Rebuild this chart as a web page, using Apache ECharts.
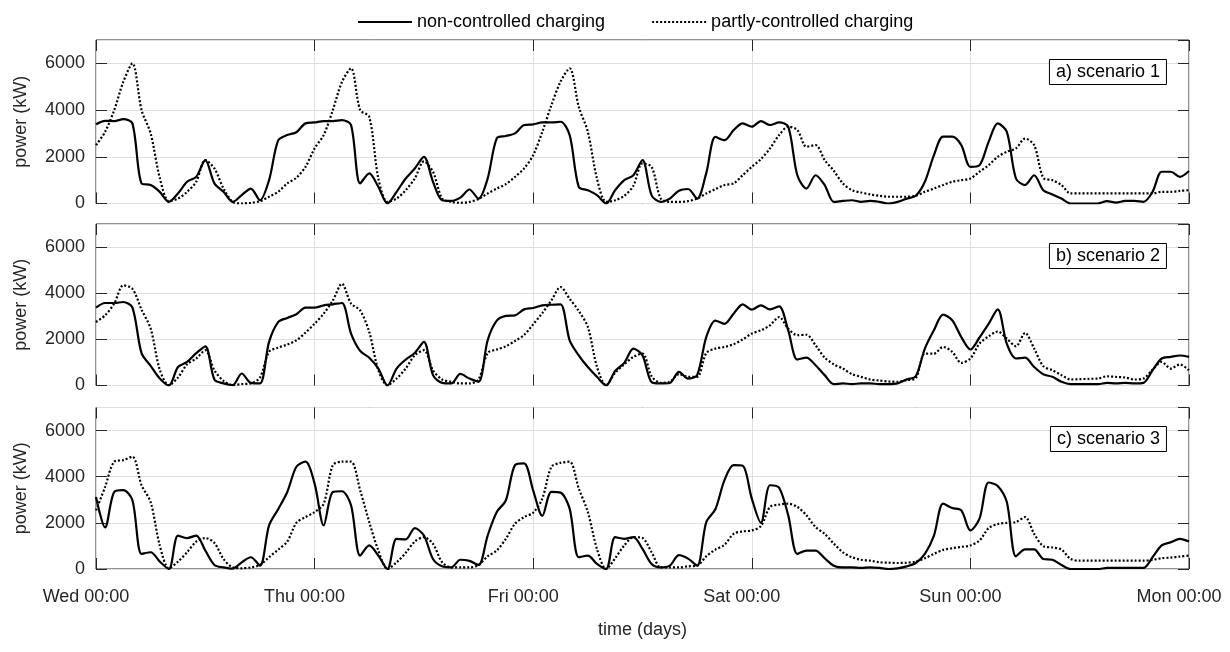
<!DOCTYPE html>
<html>
<head>
<meta charset="utf-8">
<title>charging power</title>
<script src="https://cdn.jsdelivr.net/npm/echarts@6/dist/echarts.min.js"></script>
<style>
  html, body { margin: 0; padding: 0; background: #fff; }
  #main { width: 1230px; height: 652px; }
</style>
</head>
<body>
<div id="main"></div>
<script>
  // hours since Wed 00:00, one value per hour
  var hours = [];
  for (var i = 0; i <= 120; i++) hours.push(i);

  var dayLabels = ['Wed 00:00', 'Thu 00:00', 'Fri 00:00', 'Sat 00:00', 'Sun 00:00', 'Mon 00:00'];
  var panelTitles = ['a) scenario 1', 'b) scenario 2', 'c) scenario 3'];
  var seriesNames = ['non-controlled charging', 'partly-controlled charging'];

  // scenario 1 (kW)
  var s1Non = [
    3390, 3540, 3530, 3610, 3430, 860, 790, 500, 70, 430,
    930, 1140, 1860, 860, 500, 70, 360, 640, 140, 1000,
    2700, 2930, 3050, 3430, 3470, 3530, 3530, 3570, 3360, 860,
    1290, 710, 0, 500, 1070, 1500, 2000, 930, 140, 110,
    250, 600, 210, 1070, 2790, 2890, 3000, 3360, 3390, 3470,
    3470, 3500, 2930, 715, 570, 360, 0, 570, 1000, 1210,
    1860, 350, 70, 210, 550, 620, 210, 1300, 2850, 2710,
    3140, 3430, 3290, 3530, 3360, 3470, 3290, 1210, 640, 1210,
    790, 70, 110, 140, 70, 110, 70, 0, 70, 210,
    330, 930, 2070, 2860, 2860, 2500, 1570, 1640, 2640, 3430,
    3070, 1070, 790, 1210, 570, 390, 210, 0, 0, 0,
    0, 100, 40, 110, 110, 70, 500, 1360, 1360, 1140,
    1390
  ];
  var s1Part = [
    2500, 3070, 4000, 5215, 6000, 4000, 3000, 1100, 100, 210,
    500, 930, 1860, 1500, 640, 70, 0, 30, 100, 290,
    500, 860, 1100, 1570, 2360, 2930, 4000, 5200, 5790, 4000,
    3715, 1070, 70, 210, 570, 1070, 1800, 1360, 210, 70,
    30, 70, 190, 430, 640, 830, 1140, 1500, 2070, 3070,
    4215, 5215, 5790, 4140, 3070, 1070, 70, 140, 330, 760,
    1715, 1570, 210, 70, 70, 100, 210, 430, 615, 790,
    860, 1210, 1570, 1900, 2360, 2930, 3290, 3145, 2430, 2500,
    1860, 1400, 860, 570, 470, 390, 330, 290, 290, 290,
    330, 500, 640, 790, 930, 1000, 1070, 1360, 1640, 2000,
    2215, 2360, 2780, 2500, 1100, 1000, 790, 430, 430, 430,
    430, 430, 430, 430, 430, 430, 430, 500, 500, 540,
    570
  ];

  // scenario 2 (kW)
  var s2Non = [
    3375, 3575, 3575, 3620, 3380, 1400, 850, 300, 0, 800,
    1020, 1400, 1700, 260, 90, 15, 520, 115, 90, 1890,
    2750, 2930, 3085, 3375, 3375, 3475, 3520, 3575, 2250, 1500,
    1200, 735, 0, 735, 1125, 1410, 1890, 450, 115, 90,
    500, 300, 160, 1960, 2810, 3015, 3040, 3300, 3360, 3475,
    3500, 3520, 1960, 1310, 800, 375, 0, 635, 980, 1600,
    1300, 145, 90, 110, 590, 300, 450, 2100, 2815, 2670,
    3115, 3520, 3290, 3475, 3300, 3430, 2390, 1125, 1210, 880,
    450, 60, 90, 60, 90, 90, 60, 60, 90, 260,
    400, 1600, 2400, 3070, 2830, 2100, 1560, 2080, 2670, 3300,
    1800, 1170, 1210, 800, 490, 375, 160, 60, 60, 60,
    60, 115, 90, 115, 90, 115, 660, 1170, 1240, 1300,
    1240
  ];
  var s2Part = [
    2750, 3040, 3550, 4340, 4190, 3290, 2470, 690, 15, 345,
    920, 1170, 1530, 660, 200, 15, 60, 90, 345, 1460,
    1640, 1775, 1960, 2290, 2680, 3115, 3690, 4410, 3550, 3260,
    2320, 660, 15, 300, 735, 1310, 1530, 660, 260, 160,
    90, 90, 260, 1410, 1560, 1700, 1930, 2190, 2650, 3140,
    3690, 4270, 3760, 3230, 2540, 810, 15, 550, 920, 1240,
    1385, 400, 115, 160, 490, 375, 375, 1410, 1600, 1670,
    1790, 2000, 2250, 2390, 2610, 2970, 2460, 2180, 2200, 1745,
    1210, 920, 735, 490, 375, 260, 215, 175, 160, 230,
    315, 1385, 1385, 1670, 1460, 980, 1170, 1820, 2130, 2340,
    2030, 1700, 2280, 1600, 840, 660, 450, 260, 275, 290,
    300, 400, 370, 345, 260, 300, 690, 1020, 735, 910,
    660
  ];

  // scenario 3 (kW)
  var s3Non = [
    3120, 1800, 3340, 3415, 2980, 655, 725, 320, 0, 1450,
    1340, 1450, 800, 175, 70, 15, 290, 510, 145, 1890,
    2590, 3340, 4430, 4650, 3700, 1890, 3340, 3370, 2760, 580,
    1020, 580, 0, 1310, 1280, 1770, 1450, 435, 115, 70,
    400, 350, 175, 1450, 2470, 2980, 4500, 4580, 3400, 2300,
    3340, 3310, 2615, 510, 580, 220, 0, 1380, 1310, 1380,
    870, 220, 70, 145, 600, 450, 145, 2035, 2590, 3850,
    4500, 4475, 3050, 2000, 3630, 3520, 2325, 655, 800, 800,
    465, 145, 70, 70, 45, 70, 45, 0, 30, 115,
    260, 655, 1450, 2830, 2645, 2540, 1670, 2180, 3750, 3600,
    2900, 550, 850, 850, 435, 400, 175, 0, 0, 0,
    0, 45, 45, 45, 45, 45, 510, 1020, 1160, 1310,
    1190
  ];
  var s3Part = [
    2540, 3560, 4650, 4720, 4870, 3630, 2900, 1020, 30, 320,
    725, 1190, 1340, 1130, 435, 70, 30, 70, 175, 510,
    840, 1190, 2000, 2250, 2470, 2830, 4500, 4650, 4650, 3415,
    2035, 800, 0, 290, 700, 1190, 1380, 1090, 290, 70,
    70, 70, 175, 550, 800, 1310, 1960, 2250, 2440, 3050,
    4430, 4600, 4650, 3490, 2470, 870, 0, 465, 1020, 1380,
    1340, 725, 70, 70, 70, 115, 145, 550, 840, 1050,
    1525, 1630, 1670, 1860, 2690, 2790, 2830, 2690, 2325, 1815,
    1525, 1100, 725, 510, 400, 360, 290, 275, 260, 275,
    320, 465, 655, 830, 900, 960, 1020, 1235, 1770, 1950,
    2000, 2035, 2250, 1525, 990, 930, 840, 435, 360, 360,
    360, 360, 360, 360, 360, 360, 400, 465, 495, 540,
    580
  ];

  var panels = [
    {non: s1Non, part: s1Part, top: 40, height: 163.5, titleTop: 59},
    {non: s2Non, part: s2Part, top: 224, height: 161.5, titleTop: 243},
    {non: s3Non, part: s3Part, top: 407.5, height: 161.5, titleTop: 426}
  ];

  var axisColor = '#262626';
  var gridColor = '#dfdfdf';
  var font = 'Liberation Sans, Arial, Helvetica, sans-serif';

  function pairs(vals) {
    return hours.map(function (h, i) { return [h, vals[i]]; });
  }

  var myChart = echarts.init(document.getElementById('main'));

  var option = {
    animation: false,
    backgroundColor: '#fff',
    textStyle: {fontFamily: font},
    legend: {
      left: 352,
      top: 8,
      itemWidth: 54,
      itemHeight: 14,
      itemGap: 46,
      data: seriesNames,
      // line-only legend keys: hide the marker ECharts puts on the line
      itemStyle: {color: 'transparent', borderColor: 'transparent', borderWidth: 0, opacity: 0},
      textStyle: {fontSize: 18, color: '#000', fontFamily: font}
    },
    title: [],
    grid: [],
    xAxis: [],
    yAxis: [],
    series: []
  };

  var tick = {inside: true, length: 11, lineStyle: {color: axisColor}};
  var noLine = {show: false, onZero: false};

  panels.forEach(function (p, k) {
    var last = k === panels.length - 1;

    option.title.push({
      text: panelTitles[k],
      right: 63,
      top: p.titleTop,
      padding: [4, 7],
      borderColor: '#000',
      borderWidth: 1,
      backgroundColor: '#fff',
      textStyle: {fontSize: 18, fontWeight: 'normal', color: '#000', fontFamily: font}
    });

    option.grid.push({
      left: 96, width: 1093, top: p.top, height: p.height,
      show: true, borderColor: axisColor, borderWidth: 1, backgroundColor: 'transparent'
    });

    // bottom x axis (labels only on the last panel)
    option.xAxis.push({
      type: 'value', gridIndex: k, position: 'bottom', min: 0, max: 120, interval: 24,
      axisLine: noLine,
      axisTick: tick,
      axisLabel: {
        show: last, margin: 19, fontSize: 18, color: axisColor, padding: [0, 20, 0, 0],
        formatter: function (v) { return dayLabels[Math.round(v / 24)]; }
      },
      splitLine: {show: true, lineStyle: {color: gridColor}},
      name: last ? 'time (days)' : '',
      nameLocation: 'middle',
      nameGap: 52,
      nameTextStyle: {fontSize: 18, color: axisColor}
    });
    // top x axis, ticks only
    option.xAxis.push({
      type: 'value', gridIndex: k, position: 'top', min: 0, max: 120, interval: 24,
      axisLine: noLine,
      axisTick: tick,
      axisLabel: {show: false},
      splitLine: {show: false}
    });

    option.yAxis.push({
      type: 'value', gridIndex: k, position: 'left', min: 0, max: 7000, interval: 2000,
      axisLine: noLine,
      axisTick: tick,
      axisLabel: {
        margin: 11, fontSize: 18, color: axisColor, showMaxLabel: false,
        formatter: function (v) { return String(v); }
      },
      splitLine: {show: true, lineStyle: {color: gridColor}},
      name: 'power (kW)',
      nameLocation: 'middle',
      nameGap: 66,
      nameTextStyle: {fontSize: 18, color: axisColor}
    });
    option.yAxis.push({
      type: 'value', gridIndex: k, position: 'right', min: 0, max: 7000, interval: 2000,
      axisLine: noLine,
      axisTick: tick,
      axisLabel: {show: false},
      splitLine: {show: false}
    });

    option.series.push({
      name: seriesNames[0], type: 'line',
      xAxisIndex: 2 * k, yAxisIndex: 2 * k,
      data: pairs(p.non),
      showSymbol: false, symbol: 'none', smooth: 0.3, silent: true, z: 3,
      lineStyle: {color: '#000', width: 2.2, type: 'solid'},
      itemStyle: {color: '#000'}
    });
    option.series.push({
      name: seriesNames[1], type: 'line',
      xAxisIndex: 2 * k, yAxisIndex: 2 * k,
      data: pairs(p.part),
      showSymbol: false, symbol: 'none', smooth: 0.3, silent: true, z: 2,
      lineStyle: {color: '#000', width: 2.2, type: [2, 2]},
      itemStyle: {color: '#000'}
    });
  });

  myChart.setOption(option);
</script>
</body>
</html>
